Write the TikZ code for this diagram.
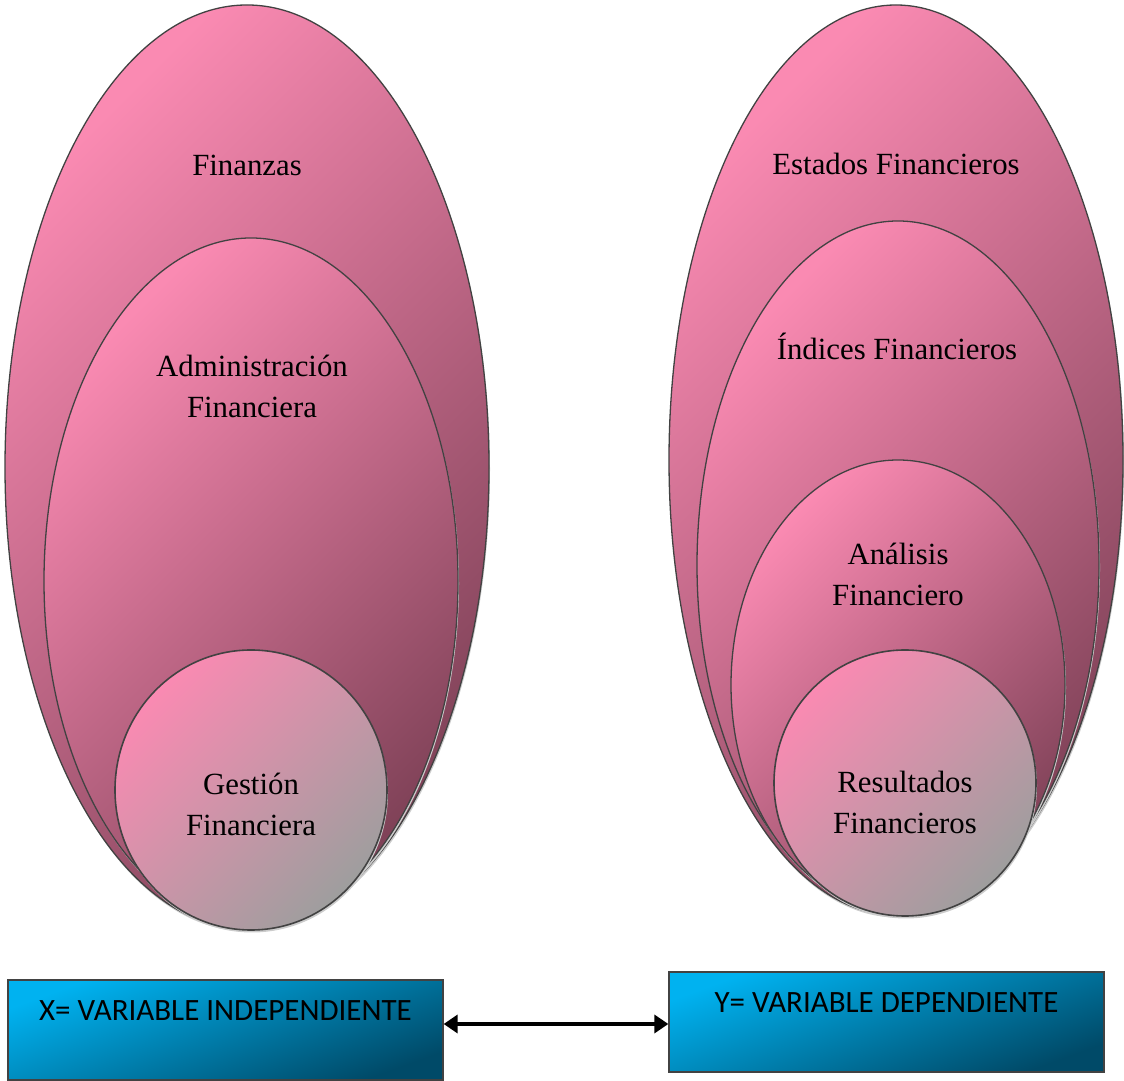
\documentclass[tikz,border=0pt]{standalone}
\usepackage{fontspec}
\setmainfont{Liberation Serif}
\newfontfamily\boxfont{Carlito}
\usetikzlibrary{arrows.meta}
\definecolor{pinkL}{RGB}{250,138,178}
\definecolor{mauveD}{RGB}{128,66,88}
\definecolor{greyD}{RGB}{158,158,158}
\definecolor{cyanL}{RGB}{0,178,240}
\definecolor{tealD}{RGB}{0,74,104}
\definecolor{edge}{RGB}{66,66,66}
\tikzset{
  oval/.style={draw=edge, line width=1.3pt, top color=pinkL, bottom color=mauveD, shading angle=45},
  disc/.style={draw=edge, line width=1.6pt, top color=pinkL, bottom color=greyD, shading angle=45},
  shade/.style={fill=black!20},
  lbl/.style={font=\fontsize{30.8}{41}\selectfont, align=center},
  varbox/.style={draw=edge, line width=1.3pt, rectangle, minimum width=435pt, minimum height=100pt,
    inner sep=0pt, top color=cyanL, bottom color=tealD, shading angle=20},
  vartext/.style={font=\boxfont\fontsize{31}{36}\selectfont},
  link/.style={line width=3.8pt, {Triangle[length=14pt,width=18pt]}-{Triangle[length=14pt,width=18pt]}}
}
\begin{document}
\begin{tikzpicture}[x=1pt,y=1pt]
\useasboundingbox (0,0) rectangle (1124,1081);
% left group: Finanzas > Administración > Gestión
\fill[shade] (248,611.5) ellipse [x radius=242, y radius=462];
\path[oval] (247,614) ellipse [x radius=242, y radius=462];
\fill[shade] (252,497.5) ellipse [x radius=207, y radius=343];
\path[oval] (251,500) ellipse [x radius=207, y radius=343];
\fill[shade] (252,288.5) ellipse [x radius=136, y radius=140];
\path[disc] (251,291) ellipse [x radius=136, y radius=140];
\node[lbl] (fin) at (247,916) {Finanzas};
\node[lbl] (adm) at (252,695) {Administración\\Financiera};
\node[lbl] (ges) at (251,277) {Gestión\\Financiera};
% right group: Estados > Índices > Análisis > Resultados
\fill[shade] (897,618.5) ellipse [x radius=227, y radius=455];
\path[oval] (896,621) ellipse [x radius=227, y radius=455];
\fill[shade] (899,513.5) ellipse [x radius=201, y radius=344];
\path[oval] (898,516) ellipse [x radius=201, y radius=344];
\fill[shade] (899,393.5) ellipse [x radius=167, y radius=225];
\path[oval] (898,396) ellipse [x radius=167, y radius=225];
\fill[shade] (906,295.5) ellipse [x radius=131, y radius=133];
\path[disc] (905,298) ellipse [x radius=131, y radius=133];
\node[lbl] (est) at (896,917) {Estados Financieros};
\node[lbl] (ind) at (897,735) {Índices Financieros};
\node[lbl] (ana) at (898,507) {Análisis\\Financiero};
\node[lbl] (res) at (905,279) {Resultados\\Financieros};
% variable boxes
\node[varbox] (xbox) at (225.5,51) {};
\node[varbox] (ybox) at (886.5,59) {};
\node[vartext] (xtxt) at (225.5,70) {X= VARIABLE INDEPENDIENTE};
\node[vartext] (ytxt) at (886.5,78) {Y= VARIABLE DEPENDIENTE};
\draw[link] ([yshift=-2pt]xbox.east |- ybox.west) -- ([yshift=-2pt]ybox.west);
\end{tikzpicture}
\end{document}
